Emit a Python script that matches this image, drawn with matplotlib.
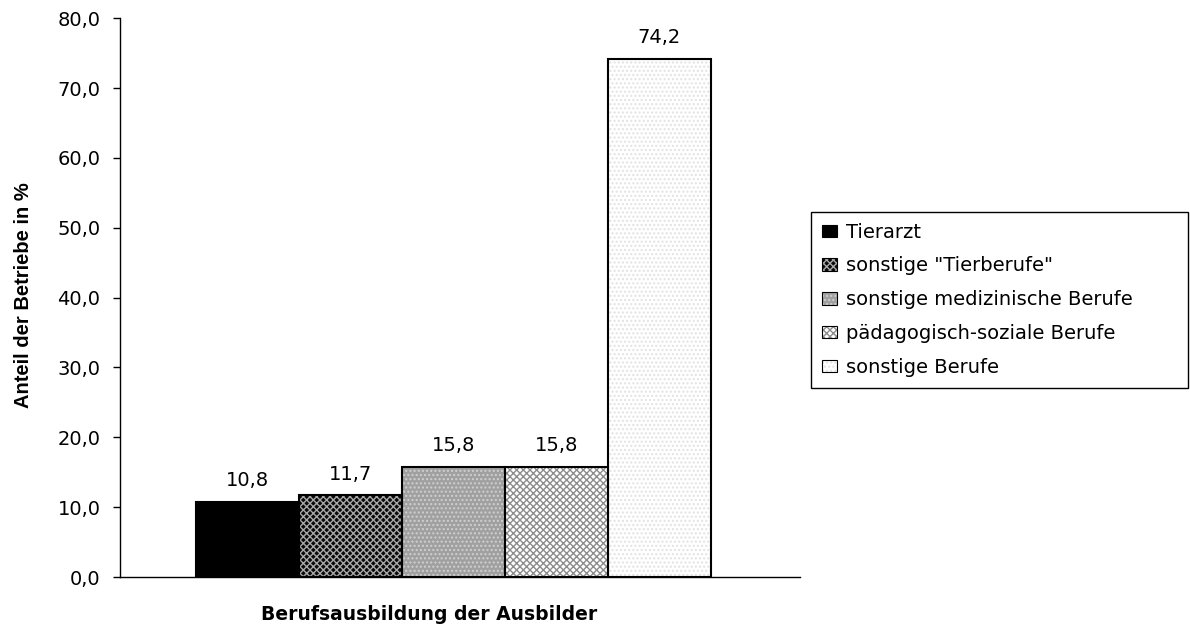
import numpy as np
import matplotlib.pyplot as plt
from matplotlib.patches import Patch

# Data
categories = ['Tierarzt', 'sonstige "Tierberufe"', 'sonstige medizinische Berufe',
              'pädagogisch-soziale Berufe', 'sonstige Berufe']
values = [10.8, 11.7, 15.8, 15.8, 74.2]
value_labels = ['10,8', '11,7', '15,8', '15,8', '74,2']
yticks = [0, 10, 20, 30, 40, 50, 60, 70, 80]
ytick_labels = ['0,0', '10,0', '20,0', '30,0', '40,0', '50,0', '60,0', '70,0', '80,0']

# Fill styles approximating the Excel patterns
faces = ['#000000', '#0a0a0a', '#a0a0a0', '#ffffff', '#ffffff']
hatches = [None, 'xxxxx', '....', 'xxxxx', '....']
hatch_cols = ['#000000', '#a8a8a8', '#d0d0d0', '#8c8c8c', '#e2e2e2']

plt.rcParams['font.family'] = ['DejaVu Sans']
plt.rcParams['hatch.linewidth'] = 1.0

fig = plt.figure(figsize=(11.9, 6.28), dpi=100)
ax = fig.add_axes([0.1008, 0.0812, 0.5714, 0.8898])

x = np.arange(len(values))
for i in x:
    # pattern layer (hatch takes the edge colour), then a black outline on top
    ax.bar(x[i], values[i], width=1.0, color=faces[i], hatch=hatches[i],
           edgecolor=hatch_cols[i], linewidth=0, zorder=2)
    ax.bar(x[i], values[i], width=1.0, fill=False, edgecolor='black', linewidth=1.5, zorder=3)
    ax.text(x[i], values[i] + 2.2, value_labels[i], ha='center', va='baseline', fontsize=14)

ax.set_xlim(-1.238, 5.364)
ax.set_ylim(0, 80)
ax.set_yticks(yticks)
ax.set_yticklabels(ytick_labels, fontsize=14)
ax.set_xticks([])
ax.tick_params(axis='y', direction='out', length=5, width=1, pad=9)

for s in ['top', 'right']:
    ax.spines[s].set_visible(False)
for s in ['left', 'bottom']:
    ax.spines[s].set_linewidth(1)
    ax.spines[s].set_color('black')

fig.text(429 / 1190, 1 - 615 / 628, 'Berufsausbildung der Ausbilder', ha='center', va='center',
         fontsize=13.5, fontweight='bold')
fig.text(24 / 1190, 1 - 295 / 628, 'Anteil der Betriebe in %', ha='center', va='center',
         rotation=90, fontsize=14.5, fontweight='bold', family=['Liberation Sans', 'DejaVu Sans'])

handles = [(Patch(facecolor=faces[i], hatch=hatches[i], edgecolor=hatch_cols[i], linewidth=0),
            Patch(fill=False, edgecolor='black', linewidth=0.8)) for i in x]
leg = fig.legend(handles, categories, loc='upper left', mode='expand',
                 bbox_to_anchor=(811 / 1190, 1 - 212 / 628, 377 / 1190, 0.0),
                 fontsize=14, frameon=True, fancybox=False, edgecolor='black', framealpha=1,
                 handlelength=0.8, handleheight=0.6, handletextpad=0.45,
                 labelspacing=0.76, borderpad=0.55, borderaxespad=0)
leg.get_frame().set_linewidth(1)

fig.savefig('out.png', dpi=100)
